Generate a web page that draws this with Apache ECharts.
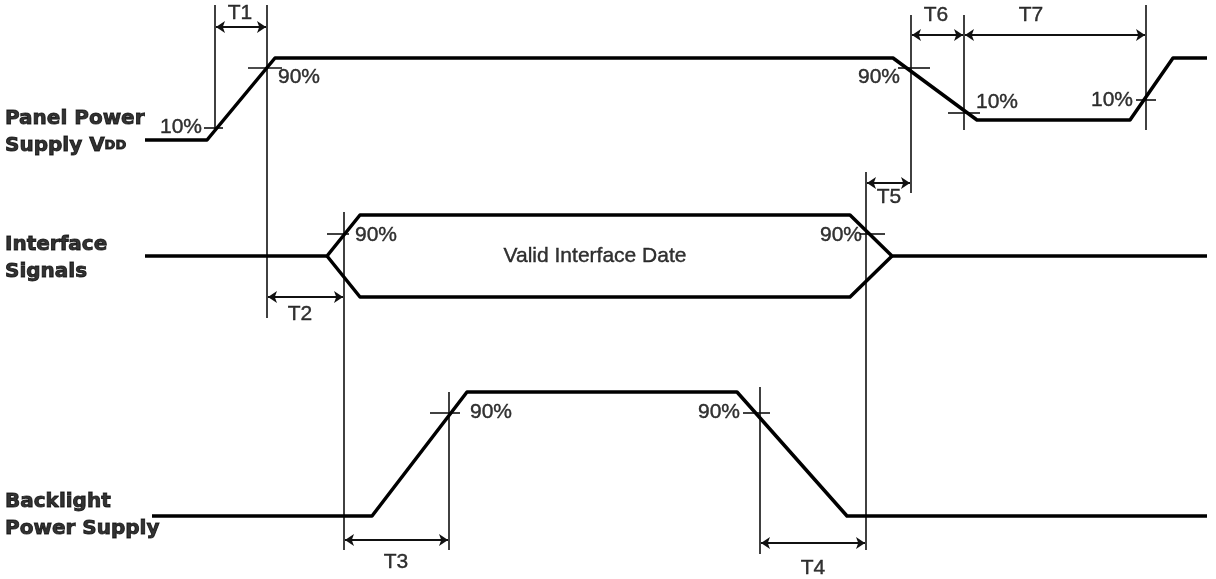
<!DOCTYPE html>
<html>
<head>
<meta charset="utf-8">
<script src="https://cdn.jsdelivr.net/npm/echarts@6/dist/echarts.min.js"></script>
<style>
html,body{margin:0;padding:0;background:#fff;}
#chart{width:1216px;height:579px;}
</style>
</head>
<body>
<div id="chart"></div>
<script>
// ---- Data (time, level) ----
const panelVdd   = [[145,140],[207,140],[275,58],[893,58],[977,120],[1130,120],[1173,58],[1207,58]];
const ifaceUpper = [[145,256],[327,256],[360,215],[850,215],[892,256],[1207,256]];
const ifaceLower = [[327,256],[360,297],[850,297],[892,256]];
const backlight  = [[152,516],[372,516],[467,392],[737,392],[847,516],[1207,516]];

// vertical reference lines: [time, from, to]
const refLines = [[215,5,130],[267,5,318],[344,212,550],[449,392,550],[760,387,554],[866,172,550],[911,15,193],[964,15,130],[1146,5,130]];

// threshold ticks: [from, to, level]
const ticks = [[204,223,128],[248,282,68],[898,930,68],[948,980,113],[1136,1156,100],[327,349,234],[860,885,234],[430,460,413],[743,770,413]];

// timing intervals: [start, end, level]
const dimNames = ['T1','T2','T3','T4','T5','T6','T7'];
const dims     = [[215,267,27],[267,344,297],[344,449,540],[760,866,543],[866,911,183],[911,964,35],[964,1146,35]];
const dimLabelAt = [[240,13],[300,314],[396,562],[813,568],[889,197],[936,15],[1031,15]];

// threshold labels: [text, time, level, side]
const pctLabels = [['10%',202,127,'right'],['90%',278,77,'left'],['90%',900,77,'right'],['10%',976,102,'left'],['10%',1133,100,'right'],['90%',355,235,'left'],['90%',862,235,'right'],['90%',470,412,'left'],['90%',740,412,'right']];

// signal names
const signalNames = ['{b|Panel Power}\n{b|Supply V}{s|DD}', '{b|Interface}\n{b|Signals}', '{b|Backlight}\n{b|Power Supply}'];
const signalNameAt = [[5,132],[5,258],[5,515]];

const busText = 'Valid Interface Date';
const busTextAt = [595,256];

// ---- Chart ----
const chart = echarts.init(document.getElementById('chart'), null, {renderer:'canvas'});
const FONT = "'Liberation Sans', Arial, sans-serif";
const BOLD = "'DejaVu Sans', sans-serif";
const wave = (d) => ({type:'line', data:d, symbol:'none', silent:true, animation:false,
  lineStyle:{color:'#000', width:3.5, join:'round'}, z:5});
const txt = {color:'#000', fontFamily:FONT, fontSize:21, textBorderColor:'#000', textBorderWidth:0.4};

const option = {
  backgroundColor:'#fff',
  animation:false,
  grid:{left:0,right:0,top:0,bottom:0},
  xAxis:{type:'value', min:0, max:1216, show:false},
  yAxis:{type:'value', min:0, max:579, inverse:true, show:false},
  series:[
    wave(panelVdd), wave(ifaceUpper), wave(ifaceLower), wave(backlight),
    {type:'lines', coordinateSystem:'cartesian2d', silent:true, animation:false, z:3,
     lineStyle:{color:'#111', width:1.6, opacity:1},
     data: refLines.map(r => ({coords:[[r[0],r[1]],[r[0],r[2]]]}))},
    {type:'lines', coordinateSystem:'cartesian2d', silent:true, animation:false, z:3,
     lineStyle:{color:'#111', width:1.6, opacity:1},
     data: ticks.map(t => ({coords:[[t[0],t[2]],[t[1],t[2]]]}))},
    {type:'lines', coordinateSystem:'cartesian2d', silent:true, animation:false, z:4,
     symbol:['arrow','arrow'], symbolSize:9,
     lineStyle:{color:'#111', width:2, opacity:1},
     data: dims.map(d => ({coords:[[d[0]+1,d[2]],[d[1]-1,d[2]]]}))},
    {type:'scatter', symbolSize:0, silent:true, animation:false, z:6,
     data: dimNames.map((n,i) => ({value:[dimLabelAt[i][0], dimLabelAt[i][1]], name:n})),
     label:Object.assign({show:true, position:'inside', formatter:p=>p.name}, txt)},
    {type:'scatter', symbolSize:0, silent:true, animation:false, z:6,
     data: pctLabels.map(p => ({value:[p[1],p[2]], name:p[0], label:{align:p[3]}})),
     label:Object.assign({show:true, position:'inside', formatter:p=>p.name, verticalAlign:'middle'}, txt)},
    {type:'scatter', symbolSize:0, silent:true, animation:false, z:6,
     data:[{value:busTextAt, name:busText}],
     label:Object.assign({show:true, position:'inside', formatter:p=>p.name}, txt)},
    {type:'scatter', symbolSize:0, silent:true, animation:false, z:6,
     data: signalNames.map((n,i) => ({value:signalNameAt[i], name:n})),
     label:{show:true, position:'inside', align:'left', verticalAlign:'middle', formatter:p=>p.name,
       rich:{
         b:{fontFamily:BOLD, fontWeight:'bold', fontSize:20, color:'#000', lineHeight:27, textBorderColor:'#000', textBorderWidth:0.9},
         s:{fontFamily:BOLD, fontWeight:'bold', fontSize:13, color:'#000', lineHeight:27, verticalAlign:'middle', textBorderColor:'#000', textBorderWidth:0.9}
       }}}
  ]
};
chart.setOption(option);
</script>
</body>
</html>
